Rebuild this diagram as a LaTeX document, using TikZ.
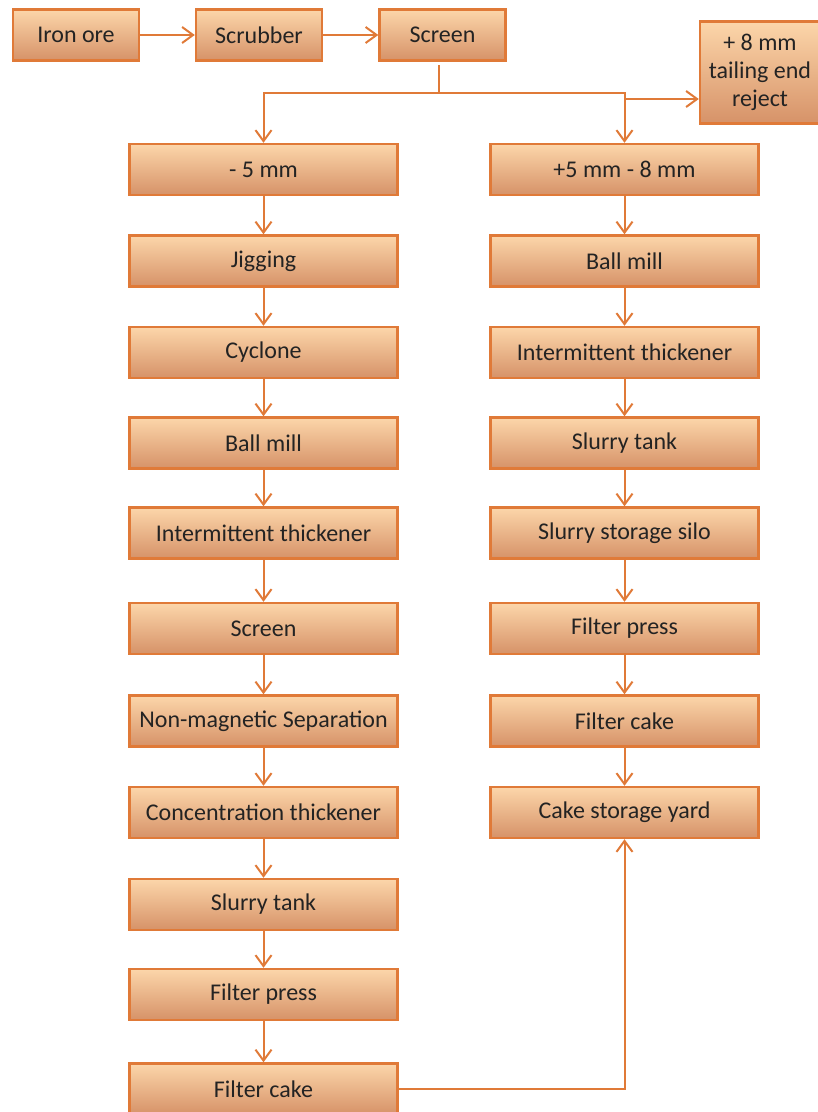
\documentclass[tikz,border=0pt]{standalone}
\usepackage{fontspec}
\setmainfont{Carlito}
\usetikzlibrary{arrows.meta}
\definecolor{boxtop}{RGB}{252,214,170}
\definecolor{boxbot}{RGB}{214,146,104}
\definecolor{edge}{RGB}{224,122,56}
\definecolor{txt}{RGB}{35,35,35}
\tikzset{
  pbox/.style={draw=edge, line width=2.4pt, top color=boxtop, bottom color=boxbot,
    minimum width=268pt, minimum height=51pt, inner sep=0pt,
    font=\fontsize{24}{28}\selectfont, text=txt},
  sbox/.style={pbox, minimum width=126pt},
  flow/.style={draw=edge, line width=2pt, -{Straight Barb[length=11pt,width=16pt,line width=2pt]}},
  plain/.style={draw=edge, line width=2pt}
}
\begin{document}
\begin{tikzpicture}[x=1pt,y=-1pt]
\useasboundingbox (0,0) rectangle (818,1112);
% top row
\node[sbox] (ore) at (76,35) {Iron ore};
\node[sbox] (scrub) at (259,35) {Scrubber};
\node[sbox] (scr) at (442.5,35) {Screen};
\node[pbox, minimum width=120pt, minimum height=102pt, align=center] (rej) at (760,72.5) {+ 8 mm\\tailing end\\reject};
% left column
\node[pbox] (m5) at (263.5,169.5) {- 5 mm};
\node[pbox] (jig) at (263.5,261) {Jigging};
\node[pbox] (cyc) at (263.5,352.5) {Cyclone};
\node[pbox] (bm1) at (263.5,443) {Ball mill};
\node[pbox] (it1) at (263.5,533) {Intermittent thickener};
\node[pbox] (scr2) at (263.5,628.5) {Screen};
\node[pbox] (nms) at (263.5,721) {Non-magnetic Separation};
\node[pbox] (ct) at (263.5,812.5) {Concentration thickener};
\node[pbox] (st1) at (263.5,904.5) {Slurry tank};
\node[pbox] (fp1) at (263.5,994.5) {Filter press};
\node[pbox] (fc1) at (263.5,1089) {Filter cake};
% right column
\node[pbox] (p5) at (624.5,169.5) {+5 mm - 8 mm};
\node[pbox] (bm2) at (624.5,261) {Ball mill};
\node[pbox] (it2) at (624.5,352.5) {Intermittent thickener};
\node[pbox] (st2) at (624.5,443) {Slurry tank};
\node[pbox] (sss) at (624.5,533) {Slurry storage silo};
\node[pbox] (fp2) at (624.5,628.5) {Filter press};
\node[pbox] (fc2) at (624.5,721) {Filter cake};
\node[pbox] (csy) at (624.5,812.5) {Cake storage yard};
% connectors top
\draw[flow] (ore) -- (scrub);
\draw[flow] (scrub) -- (scr);
\coordinate (split) at (439,93);
\coordinate (rb) at (626,99);
\draw[plain] (439,65) -- (split);
\draw[flow] (split) -| (m5.north);
\draw[flow] (split) -| (p5.north);
\draw[flow] (rb) -- (rb -| rej.west);
% chains
\foreach \a/\b in {m5/jig, jig/cyc, cyc/bm1, bm1/it1, it1/scr2, scr2/nms, nms/ct, ct/st1, st1/fp1, fp1/fc1,
  p5/bm2, bm2/it2, it2/st2, st2/sss, sss/fp2, fp2/fc2, fc2/csy}
  \draw[flow] (\a.south) -- (\b.north);
\draw[flow] (fc1.east) -| (csy.south);
\end{tikzpicture}
\end{document}
